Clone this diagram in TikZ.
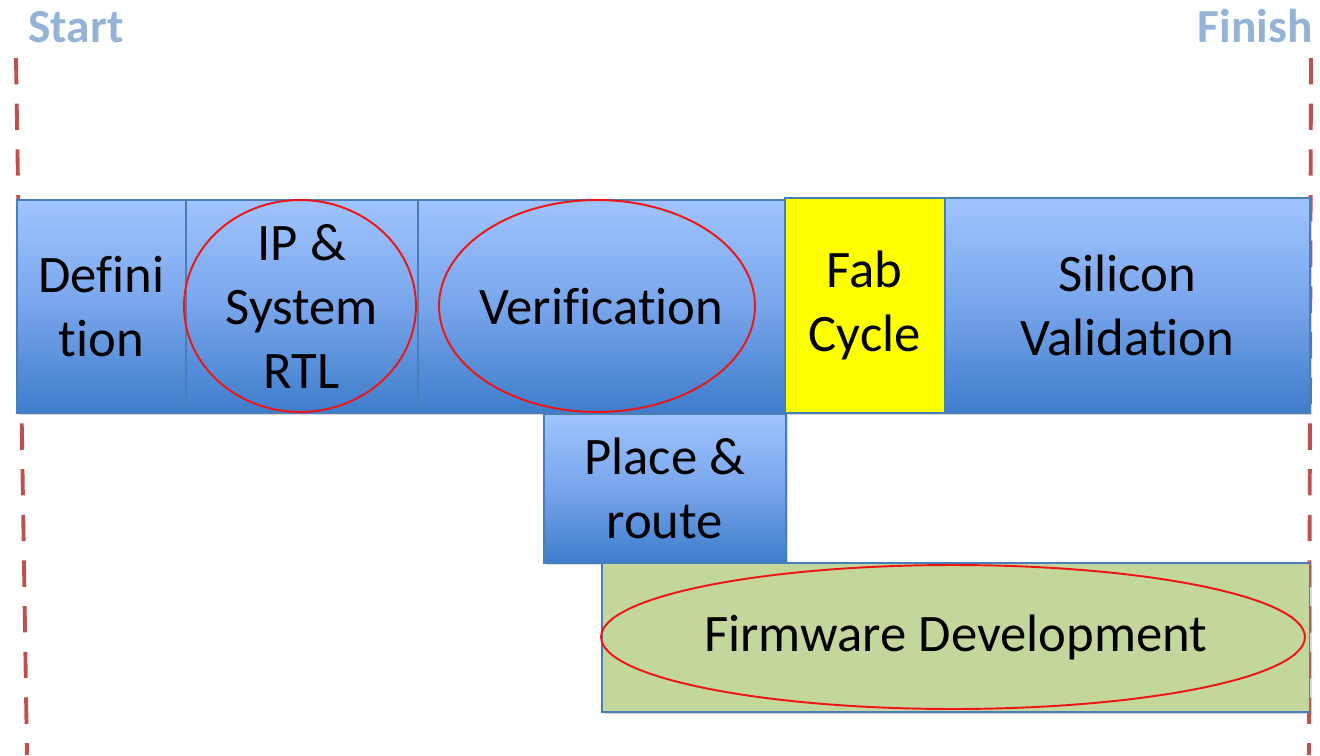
\documentclass[tikz,border=0pt]{standalone}
\usepackage{fontspec}
\setmainfont[Ligatures=NoCommon]{Carlito}
\usetikzlibrary{shapes.geometric,shadows}
\definecolor{lblue}{RGB}{160,196,255}
\definecolor{mblue}{RGB}{120,165,235}
\definecolor{dblue}{RGB}{62,125,204}
\definecolor{edgeblue}{RGB}{74,126,187}
\definecolor{fwgreen}{RGB}{195,214,155}
\definecolor{fabyellow}{RGB}{255,255,0}
\definecolor{dashred}{RGB}{192,80,77}
\definecolor{labelblue}{RGB}{149,179,215}
\definecolor{ringred}{RGB}{240,20,20}
\tikzset{
  box/.style={rectangle, draw=edgeblue, line width=0.9pt, anchor=north west,
    align=center, inner sep=0pt, font=\fontsize{30}{36.5}\selectfont,
    drop shadow={shadow xshift=1.5pt, shadow yshift=-1.5pt, opacity=0.3}},
  bluebox/.style={box, top color=lblue, bottom color=dblue, middle color=mblue},
  ring/.style={ellipse, draw=ringred, line width=1.1pt, inner sep=0pt},
  phase/.style={font=\fontsize{27}{32}\selectfont\bfseries, text=labelblue, inner sep=0pt},
  timeline/.style={draw=dashred, line width=2.2pt, dash pattern=on 15pt off 11pt}
}
\begin{document}
\begin{tikzpicture}[x=0.02cm, y=-0.02cm]
\useasboundingbox (0,0) rectangle (1320,755);
% timeline markers
\coordinate (sTop) at (16,58);
\coordinate (sBot) at (27,755);
\coordinate (fTop) at (1311,58);
\coordinate (fBot) at (1309,755);
\draw[timeline] (sTop) -- (sBot);
\draw[timeline] (fTop) -- (fBot);
\node[phase, anchor=base west] (start) at (28,42) {Start};
\node[phase, anchor=base east] (finish) at (1313,42) {Finish};
% main row
\node[bluebox, minimum width=3.38cm, minimum height=4.26cm] (def) at (16,199) {Defini\\tion};
\node[bluebox, minimum width=4.64cm, minimum height=4.26cm] (ip) at (185,199) {IP \&\\System\\RTL};
\node[bluebox, minimum width=7.34cm, minimum height=4.26cm] (ver) at (417,199) {Verification};
\node[box, fill=fabyellow, minimum width=3.2cm, minimum height=4.3cm] (fab) at (784,197) {Fab\\Cycle};
\node[bluebox, minimum width=7.3cm, minimum height=4.3cm] (sil) at (944,197) {Silicon\\Validation};
% second row
\node[bluebox, minimum width=4.84cm, minimum height=2.98cm] (pr) at (543,413) {Place \&\\route};
\node[box, fill=fwgreen, minimum width=14.16cm, minimum height=2.98cm] (fw) at (601,562) {Firmware Development};
% highlight rings
\node[ring, minimum width=4.64cm, minimum height=4.24cm] (ipRing) at (300,306) {};
\node[ring, minimum width=6.32cm, minimum height=4.24cm] (verRing) at (597,306) {};
\node[ring, minimum width=14.08cm, minimum height=2.88cm] (fwRing) at (953,637) {};
\end{tikzpicture}
\end{document}
